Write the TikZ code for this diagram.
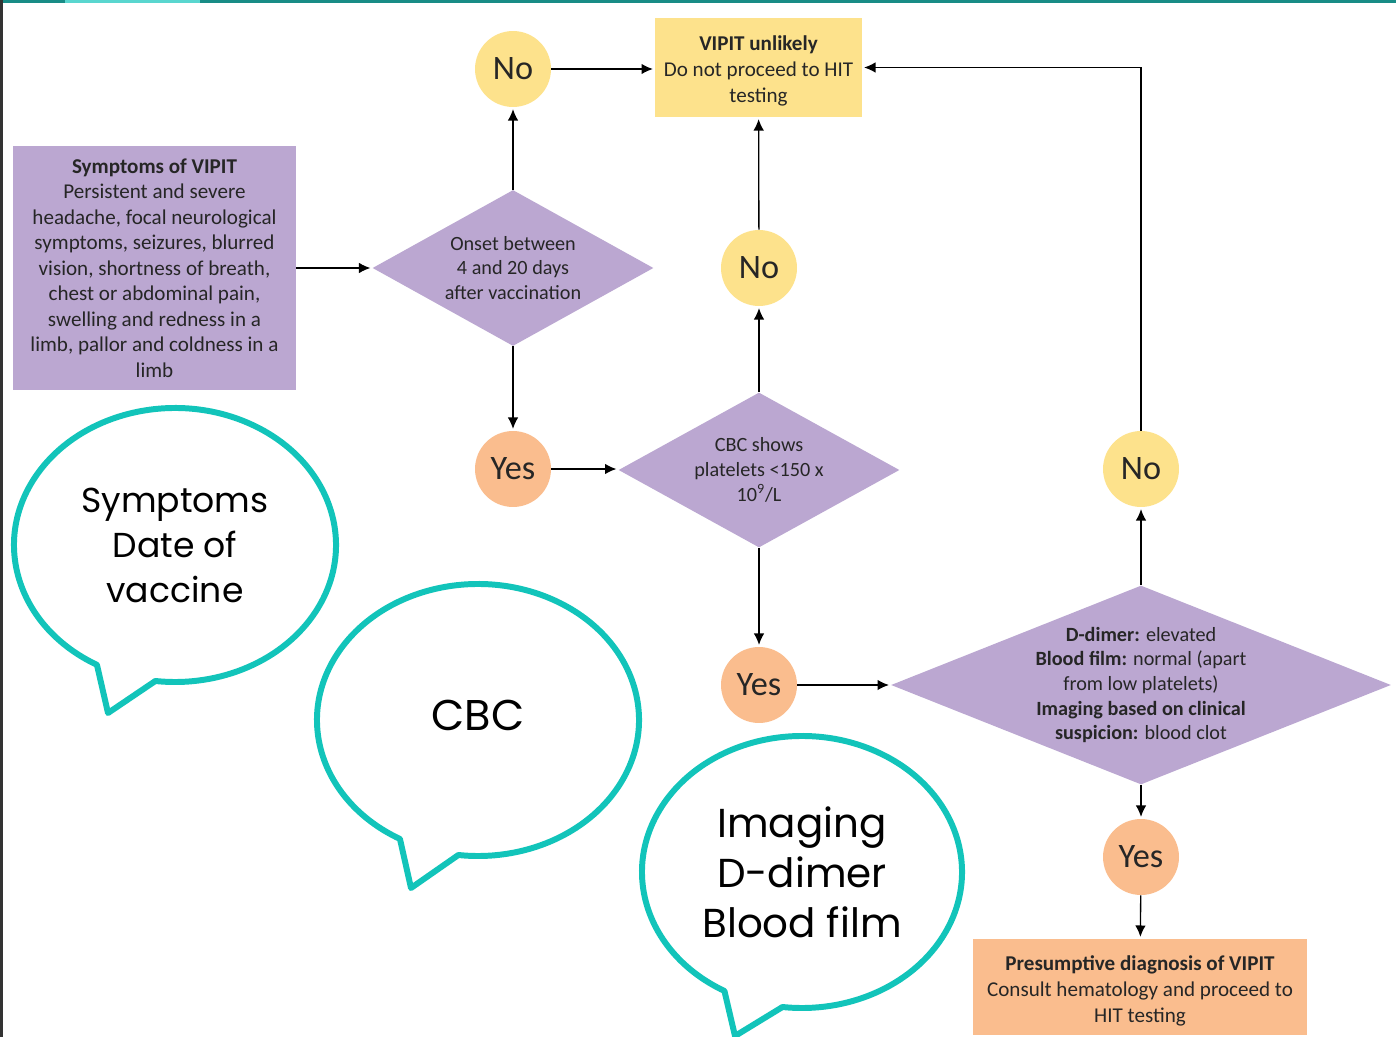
\documentclass[tikz,border=0pt]{standalone}
\usepackage{fontspec}
\setmainfont{Carlito}
\newfontfamily\bubblefont{Poppins}
\usetikzlibrary{shapes.geometric,arrows.meta}
\definecolor{lavender}{RGB}{187,167,209}
\definecolor{paleyellow}{RGB}{253,226,140}
\definecolor{peach}{RGB}{250,189,142}
\definecolor{bubbleteal}{RGB}{18,196,186}
\definecolor{frameteal}{RGB}{24,140,134}
\begin{document}
\begin{tikzpicture}[x=0.02cm, y=-0.02cm, >={Latex[length=6.5pt,width=6pt]},
    txt/.style={font=\fontsize{12}{14.8}\selectfont, text=black!85, align=center},
    infobox/.style={txt, rectangle, inner sep=0pt},
    decision/.style={diamond, fill=lavender, inner sep=-2pt, text=black!85, align=center,
        font=\fontsize{11.5}{14}\selectfont},
    nocirc/.style={circle, fill=paleyellow, minimum size=1.52cm, inner sep=0pt, text=black!85,
        font=\fontsize{19.5}{21}\selectfont},
    yescirc/.style={nocirc, fill=peach},
    link/.style={->, line width=0.75pt, shorten >=1pt},
    bubble/.style={line width=3.4pt, draw=bubbleteal, fill=white, line join=round},
    bubbletxt/.style={font=\bubblefont\fontsize{19.7}{25.6}\selectfont, align=center}]
    \useasboundingbox (0,0) rectangle (1396,1037);
    \draw[line width=2pt, frameteal] (0,1) -- (1396,1);
    \draw[line width=2pt, bubbleteal!70] (65,1) -- (200,1);
    \draw[line width=2pt, black!80] (1,0) -- (1,1037);

    \node[infobox, fill=lavender, minimum width=5.66cm, minimum height=4.88cm,
        font=\fontsize{12}{14.5}\selectfont] (symptoms) at (154.5,268)
        {\textbf{Symptoms of VIPIT}\\Persistent and severe\\headache, focal neurological\\symptoms, seizures, blurred\\vision, shortness of breath,\\chest or abdominal pain,\\swelling and redness in a\\limb, pallor and coldness in a\\limb};
    \node[infobox, fill=paleyellow, minimum width=4.14cm, minimum height=1.98cm] (unlikely) at (758.5,67.5)
        {\rule{0pt}{12pt}\textbf{VIPIT unlikely}\\Do not proceed to HIT\\testing};
    \node[infobox, fill=peach, minimum width=6.68cm, minimum height=1.92cm] (presumptive) at (1140,987)
        {\rule{0pt}{12.5pt}\textbf{Presumptive diagnosis of VIPIT}\\Consult hematology and proceed to\\HIT testing};

    \node[decision, aspect=1.8, minimum width=5.62cm, minimum height=3.12cm] (onset) at (513,268)
        {Onset between\\4 and 20 days\\after vaccination};
    \node[decision, aspect=1.8, minimum width=5.62cm, minimum height=3.1cm] (cbc) at (759,470)
        {CBC shows\\platelets <150 x\\10\textsuperscript{9}/L};
    \node[decision, aspect=2.5, minimum width=10cm, minimum height=3.98cm] (dimer) at (1141,685)
        {\textbf{D-dimer:} elevated\\\textbf{Blood film:} normal (apart\\from low platelets)\\\textbf{Imaging based on clinical}\\\textbf{suspicion:} blood clot};

    \foreach \nm/\x/\y in {noA/513/69, noB/759/268, noC/1141/469}
        \node[nocirc] (\nm) at (\x,\y) {No};
    \foreach \nm/\x/\y in {yesA/513/469, yesB/759/685, yesC/1141/857}
        \node[yescirc] (\nm) at (\x,\y) {Yes};

    \draw[link] (symptoms) -- (onset);
    \draw[link] (onset) -- (noA);
    \draw[link] (noA.east) -- (noA.east -| unlikely.west);
    \draw[link] (onset) -- (yesA);
    \draw[link] (yesA) -- (yesA -| cbc.west);
    \draw[link] (cbc) -- (noB);
    \draw[link] (noB) -- (unlikely);
    \draw[link] (cbc) -- (yesB);
    \draw[link] (yesB) -- (dimer);
    \draw[link] (dimer) -- (noC);
    \draw[link] (noC.north) |- (unlikely.east);
    \draw[link] (dimer) -- (yesC);
    \draw[link] (yesC) -- (presumptive);

    \coordinate (bubA) at (175,545);
    \coordinate (tipA) at (108,713);
    \coordinate (bubB) at (478,720);
    \coordinate (tipB) at (411,888);
    \coordinate (bubC) at (802,872);
    \coordinate (tipC) at (735,1036);
    \draw[bubble] (bubA) ++(119:161 and 137) arc[start angle=119, end angle=457, x radius=161, y radius=137] -- (tipA) -- cycle;
    \draw[bubble] (bubB) ++(119:161 and 136) arc[start angle=119, end angle=457, x radius=161, y radius=136] -- (tipB) -- cycle;
    \draw[bubble] (bubC) ++(119:160 and 136) arc[start angle=119, end angle=457, x radius=160, y radius=136] -- (tipC) -- cycle;
    \node[bubbletxt] (askA) at (bubA) {Symptoms\\Date of\\vaccine};
    \node[bubbletxt, font=\bubblefont\fontsize{24.5}{28}\selectfont] (askB) at (478,715) {CBC};
    \node[bubbletxt, font=\bubblefont\fontsize{23}{28.5}\selectfont] (askC) at (bubC) {Imaging\\D-dimer\\Blood film};
\end{tikzpicture}
\end{document}
